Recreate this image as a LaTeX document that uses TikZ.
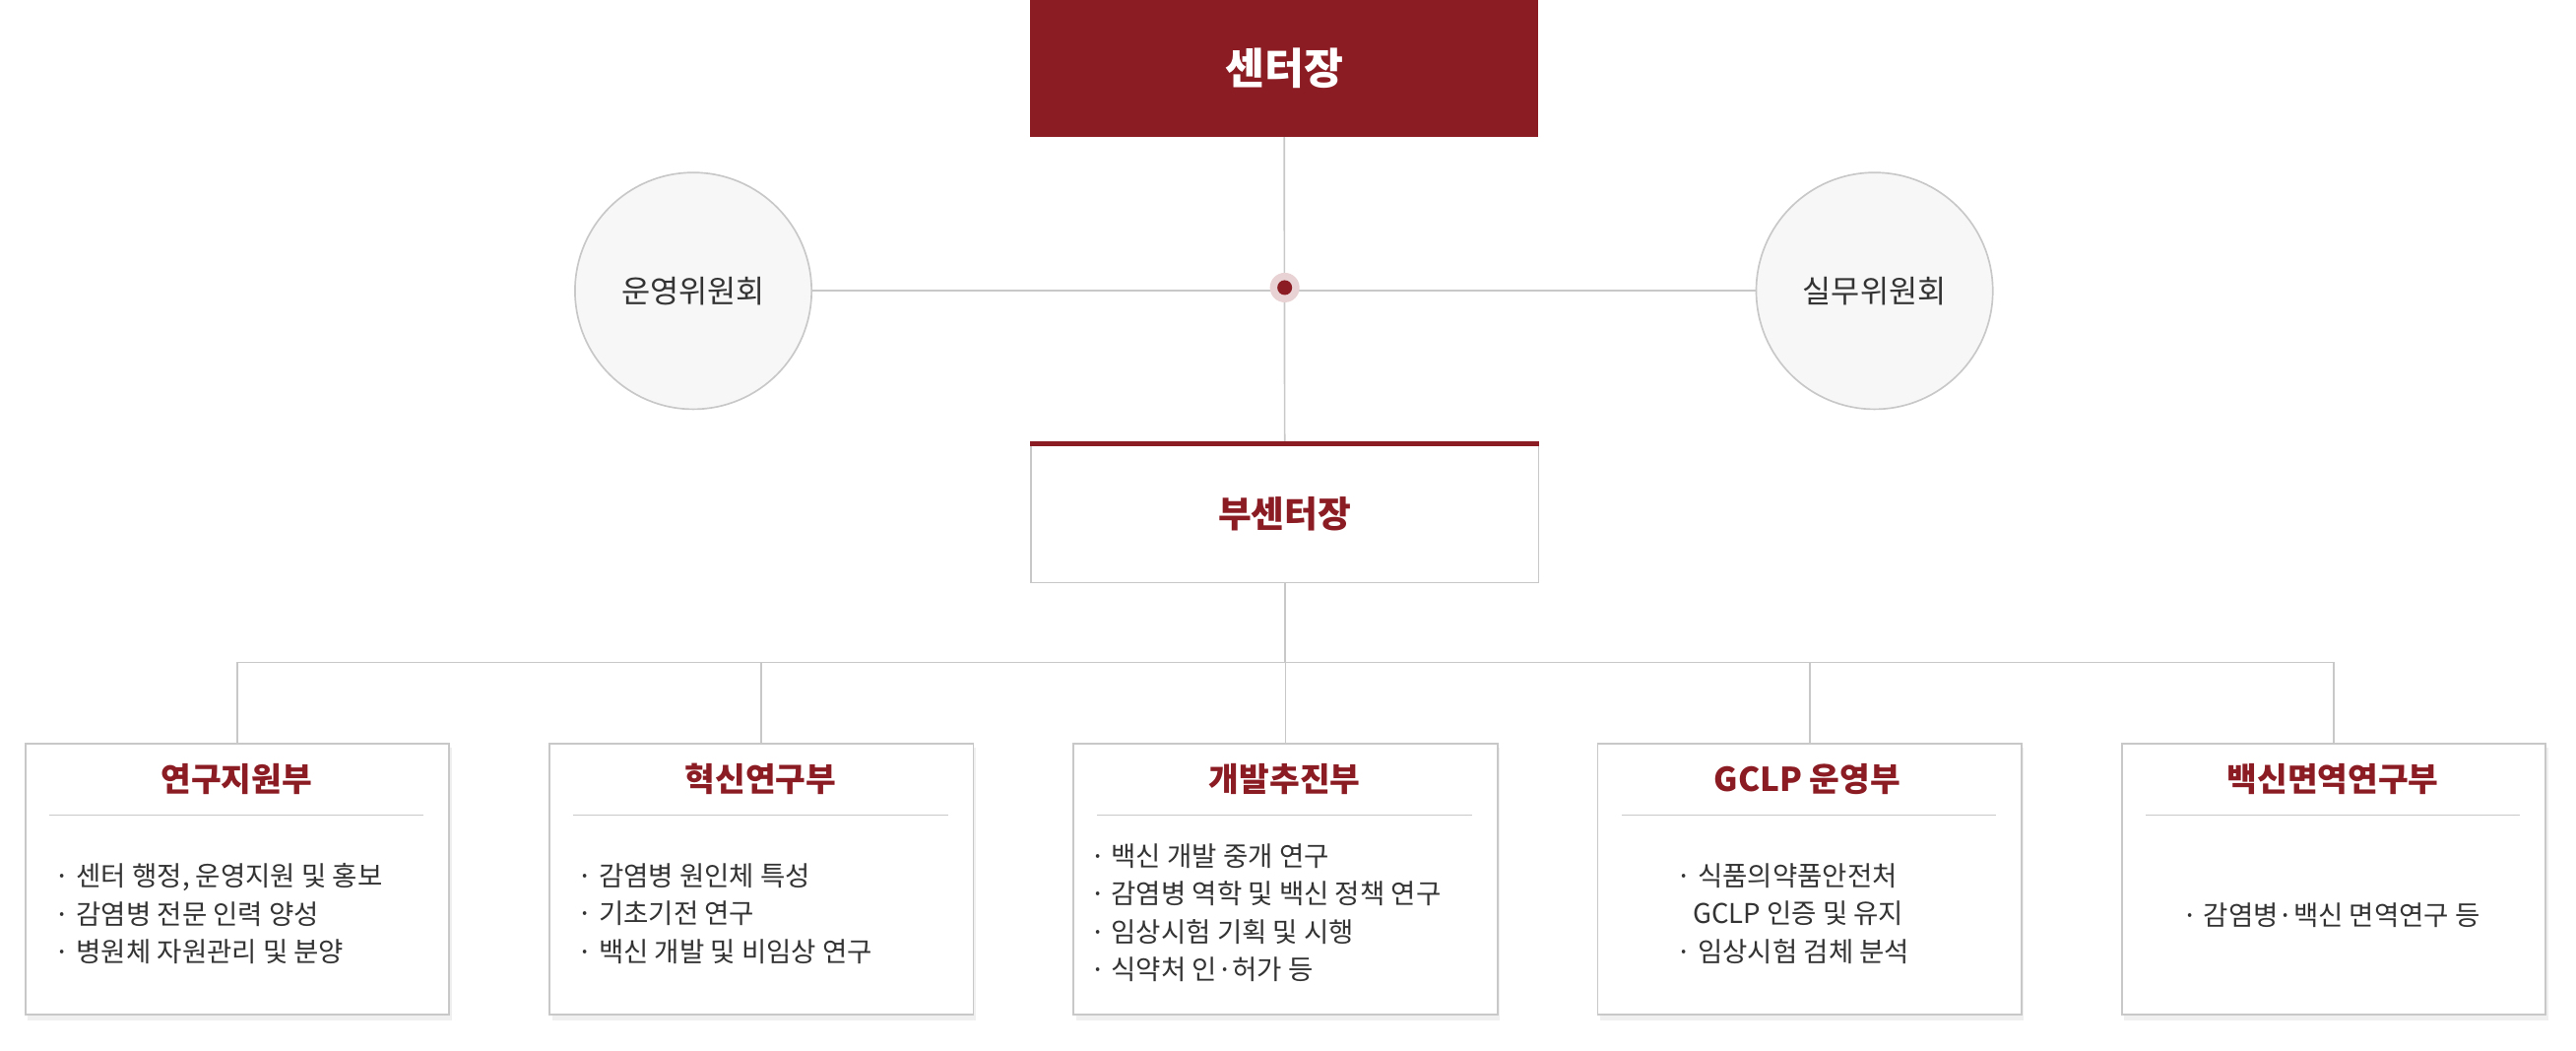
\documentclass[tikz,border=0pt]{standalone}
\usepackage{fontspec}
\setmainfont{Noto Sans CJK KR}
\newfontfamily\krbold[FakeBold=0]{Noto Sans CJK KR Bold}
\definecolor{dred}{HTML}{8B1C24}
\definecolor{lgray}{HTML}{C8C8C8}
\definecolor{cfill}{HTML}{F7F7F7}
\definecolor{txt}{HTML}{333333}
\begin{document}
\begin{tikzpicture}[x=1pt,y=-1pt,
  conn/.style={draw=lgray,line width=1pt},
  dept/.style={draw=lgray,fill=white,line width=1pt,minimum width=258pt,minimum height=165pt,anchor=north west,inner sep=0},
  dtitle/.style={font=\fontsize{20}{24}\selectfont\bfseries,text=dred},
  item/.style={font=\fontsize{16.5}{23}\selectfont,text=txt,align=left,anchor=north west},
  circ/.style={circle,draw=lgray,fill=cfill,line width=1pt,minimum size=144pt,font=\fontsize{19}{22}\selectfont,text=txt}]
\useasboundingbox (0,0) rectangle (1568,639);
% top
\node[fill=dred,minimum width=309pt,minimum height=83pt,anchor=north west,inner sep=0,text=white,font=\fontsize{26}{30}\selectfont\bfseries] (top) at (627,0) {센터장};
\node[circ] (l) at (422,177) {운영위원회};
\node[circ] (r) at (1141,177) {실무위원회};
\coordinate (hub) at (782,175);
\node[draw=lgray,fill=white,line width=1pt,minimum width=309pt,minimum height=84pt,anchor=north west,inner sep=0,text=dred,font=\fontsize{22}{26}\selectfont\bfseries] (sub) at (627,270) {부센터장};
\draw[conn] (top.south) -- (sub.north);
\draw[conn] (l.east) -- (r.west);
\draw[dred,line width=2.5pt] (sub.north west) -- (sub.north east);
\fill[dred!20] (hub) circle (9);
\fill[dred] (hub) circle (4.5);
% depts
\foreach \n/\x in {a/15,b/334,c/653,d/972,e/1291}{
  \fill[black!6] (\x+2,452+3) rectangle (\x+260,617+4);
  \node[dept] (\n) at (\x,452) {};
  \draw[lgray,line width=1pt] (\x+15,496) -- (\x+243,496);
}
\coordinate (bus) at (782,403);
\draw[conn] (sub.south) -- (bus);
\draw[conn] (a.north |- bus) -- (e.north |- bus);
\foreach \n in {a,b,c,d,e}{\draw[conn] (\n.north |- bus) -- (\n.north);}
\node[dtitle] at (144,474) {연구지원부};
\node[dtitle] at (463,474) {혁신연구부};
\node[dtitle] at (782,474) {개발추진부};
\node[dtitle] at (1100,474) {GCLP 운영부};
\node[dtitle] at (1420,474) {백신면역연구부};
\node[item] at (30,522) {· 센터 행정, 운영지원 및 홍보\\· 감염병 전문 인력 양성\\· 병원체 자원관리 및 분양};
\node[item] at (348,522) {· 감염병 원인체 특성\\· 기초기전 연구\\· 백신 개발 및 비임상 연구};
\node[item] at (660,510) {· 백신 개발 중개 연구\\· 감염병 역학 및 백신 정책 연구\\· 임상시험 기획 및 시행\\· 식약처 인·허가 등};
\node[item] at (1017,522) {· 식품의약품안전처\\\hspace*{0.6em}GCLP 인증 및 유지\\· 임상시험 검체 분석};
\node[font=\fontsize{16.5}{23}\selectfont,text=txt] at (1419,557) {· 감염병·백신 면역연구 등};
\end{tikzpicture}
\end{document}
